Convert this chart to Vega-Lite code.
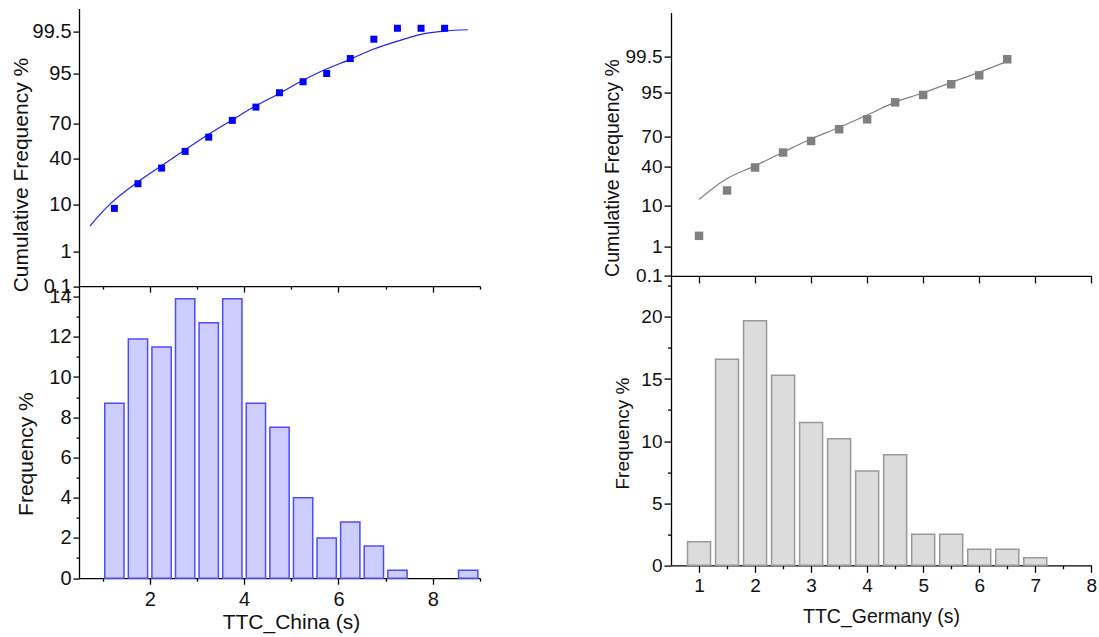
{
  "$schema": "https://vega.github.io/schema/vega-lite/v6.json",
  "padding": {"left": 10, "top": 8.6, "right": 5, "bottom": 5},
  "background": "white",
  "spacing": 121,
  "datasets": {
    "chinaFreq": [
      {"t": 1.25, "freq": 8.7}, {"t": 1.75, "freq": 11.9}, {"t": 2.25, "freq": 11.5}, {"t": 2.75, "freq": 13.9},
      {"t": 3.25, "freq": 12.7}, {"t": 3.75, "freq": 13.9}, {"t": 4.25, "freq": 8.7}, {"t": 4.75, "freq": 7.5},
      {"t": 5.25, "freq": 4.0}, {"t": 5.75, "freq": 2.0}, {"t": 6.25, "freq": 2.8}, {"t": 6.75, "freq": 1.6},
      {"t": 7.25, "freq": 0.4}, {"t": 8.75, "freq": 0.4}
    ],
    "chinaCum": [
      {"t": 1.25, "cum": 8.7}, {"t": 1.75, "cum": 20.9}, {"t": 2.25, "cum": 32.2}, {"t": 2.75, "cum": 46.4},
      {"t": 3.25, "cum": 59.0}, {"t": 3.75, "cum": 72.6}, {"t": 4.25, "cum": 81.5}, {"t": 4.75, "cum": 88.8},
      {"t": 5.25, "cum": 92.8}, {"t": 5.75, "cum": 95.0}, {"t": 6.25, "cum": 97.6}, {"t": 6.75, "cum": 99.2},
      {"t": 7.25, "cum": 99.6}, {"t": 7.75, "cum": 99.6}, {"t": 8.25, "cum": 99.6}
    ],
    "chinaFit": [
      {"t": 0.735, "cum": 4.0}, {"t": 0.913, "cum": 6.3}, {"t": 1.174, "cum": 10.6}, {"t": 1.74, "cum": 21.9},
      {"t": 2.24, "cum": 33.8}, {"t": 2.74, "cum": 47.6}, {"t": 3.24, "cum": 61.3}, {"t": 3.73, "cum": 72.6},
      {"t": 4.24, "cum": 82.1}, {"t": 4.74, "cum": 88.4}, {"t": 5.22, "cum": 93.0}, {"t": 5.73, "cum": 95.9},
      {"t": 6.25, "cum": 97.5}, {"t": 6.72, "cum": 98.54}, {"t": 7.25, "cum": 99.1}, {"t": 7.75, "cum": 99.41},
      {"t": 8.24, "cum": 99.52}, {"t": 8.74, "cum": 99.56}
    ],
    "germanyFreq": [
      {"t": 1.0, "freq": 1.9}, {"t": 1.5, "freq": 16.6}, {"t": 2.0, "freq": 19.7}, {"t": 2.5, "freq": 15.3},
      {"t": 3.0, "freq": 11.5}, {"t": 3.5, "freq": 10.2}, {"t": 4.0, "freq": 7.6}, {"t": 4.5, "freq": 8.9},
      {"t": 5.0, "freq": 2.5}, {"t": 5.5, "freq": 2.5}, {"t": 6.0, "freq": 1.3}, {"t": 6.5, "freq": 1.3},
      {"t": 7.0, "freq": 0.6}
    ],
    "germanyCum": [
      {"t": 1.0, "cum": 2.0}, {"t": 1.5, "cum": 18.9}, {"t": 2.0, "cum": 38.7}, {"t": 2.5, "cum": 54.0},
      {"t": 3.0, "cum": 65.5}, {"t": 3.5, "cum": 75.9}, {"t": 4.0, "cum": 83.1}, {"t": 4.5, "cum": 91.9},
      {"t": 5.0, "cum": 94.4}, {"t": 5.5, "cum": 96.9}, {"t": 6.0, "cum": 98.2}, {"t": 6.5, "cum": 99.4}
    ],
    "germanyFit": [
      {"t": 1.0, "cum": 13.3}, {"t": 1.244, "cum": 20.4}, {"t": 1.493, "cum": 28.1}, {"t": 1.997, "cum": 40.3},
      {"t": 2.49, "cum": 54.0}, {"t": 2.983, "cum": 67.1}, {"t": 3.48, "cum": 76.9}, {"t": 3.97, "cum": 85.3},
      {"t": 4.48, "cum": 91.8}, {"t": 4.97, "cum": 94.8}, {"t": 5.47, "cum": 97.1}, {"t": 5.96, "cum": 98.44},
      {"t": 6.455, "cum": 99.25}
    ],
    "empty": []
  },
  "hconcat": [
    {
      "spacing": 0,
      "bounds": "flush",
      "vconcat": [
        {
          "width": 401,
          "height": 277.5,
          "layer": [
            {
              "data": {"name": "chinaFit"},
              "transform": [{"calculate": "quantileNormal(datum.cum / 100)", "as": "z"}],
              "mark": {"type": "line", "color": "#1f1fff", "strokeWidth": 1.2, "interpolate": "monotone"},
              "encoding": {
                "x": {"field": "t", "type": "quantitative"},
                "y": {"field": "z", "type": "quantitative"}
              }
            },
            {
              "data": {"name": "chinaCum"},
              "transform": [{"calculate": "quantileNormal(datum.cum / 100)", "as": "z"}],
              "mark": {"type": "square", "size": 49, "color": "#0000ff", "opacity": 1},
              "encoding": {
                "x": {
                  "field": "t", "type": "quantitative",
                  "scale": {"domain": [0.5, 9], "nice": false, "zero": false, "padding": 0},
                  "axis": {
                    "values": [1, 2, 3, 4, 5, 6, 7, 8, 9], "labels": false, "title": null,
                    "tickSize": {"condition": {"test": "datum.value % 2 === 0", "value": 6}, "value": 3}
                  }
                },
                "y": {
                  "field": "z", "type": "quantitative",
                  "scale": {"domain": [-3.090232, 3.090232], "nice": false, "zero": false, "padding": 0},
                  "axis": {
                    "values": [-3.090232, -2.326348, -1.281552, -0.253347, 0.524401, 1.644854, 2.575829],
                    "labelExpr": "'' + round(cumulativeNormal(datum.value) * 1000) / 10",
                    "title": "Cumulative Frequency %",
                    "tickSize": 6, "labelFontSize": 20, "labelPadding": 2, "labelFlush": false,
                    "titleFontSize": 21, "titleX": -58, "titleY": 166, "titleBaseline": "middle"
                  }
                }
              }
            }
          ]
        },
        {
          "width": 401,
          "height": 291.6,
          "data": {"name": "chinaFreq"},
          "mark": {"type": "bar", "width": 19.3, "fill": "#cdcdff", "stroke": "#4d4dff", "strokeWidth": 1.5},
          "encoding": {
            "x": {
              "field": "t", "type": "quantitative",
              "scale": {"domain": [0.5, 9], "nice": false, "zero": false, "padding": 0},
              "axis": {
                "values": [1, 2, 3, 4, 5, 6, 7, 8, 9],
                "labelExpr": "datum.value % 2 === 0 ? '' + datum.value : ''",
                "tickSize": {"condition": {"test": "datum.value % 2 === 0", "value": 6}, "value": 3},
                "labelFontSize": 20, "labelPadding": 5, "labelFlush": false,
                "title": "TTC_China (s)", "titleFontSize": 21, "titleX": 212, "titleY": 50, "titleBaseline": "alphabetic"
              }
            },
            "y": {
              "field": "freq", "type": "quantitative",
              "scale": {"domain": [0, 14.5], "nice": false, "zero": true, "padding": 0},
              "axis": {
                "values": [0, 1, 2, 3, 4, 5, 6, 7, 8, 9, 10, 11, 12, 13, 14],
                "labelExpr": "datum.value % 2 === 0 ? '' + datum.value : ''",
                "tickSize": {"condition": {"test": "datum.value % 2 === 0", "value": 6}, "value": 3},
                "labelFontSize": 20, "labelPadding": 2, "labelFlush": false,
                "title": "Frequency %", "titleFontSize": 21, "titleX": -53, "titleY": 167, "titleBaseline": "middle"
              }
            }
          }
        }
      ]
    },
    {
      "spacing": 0,
      "bounds": "flush",
      "vconcat": [
        {
          "width": 420.3,
          "height": 3.5,
          "data": {"name": "empty"},
          "mark": {"type": "point", "opacity": 0}
        },
        {
          "width": 420.3,
          "height": 263.3,
          "layer": [
            {
              "data": {"name": "germanyFit"},
              "transform": [{"calculate": "quantileNormal(datum.cum / 100)", "as": "z"}],
              "mark": {"type": "line", "color": "#808080", "strokeWidth": 1.2, "interpolate": "monotone"},
              "encoding": {
                "x": {"field": "t", "type": "quantitative"},
                "y": {"field": "z", "type": "quantitative"}
              }
            },
            {
              "data": {"name": "germanyCum"},
              "transform": [{"calculate": "quantileNormal(datum.cum / 100)", "as": "z"}],
              "mark": {"type": "square", "size": 72, "color": "#808080", "opacity": 1},
              "encoding": {
                "x": {
                  "field": "t", "type": "quantitative",
                  "scale": {"domain": [0.5, 8], "nice": false, "zero": false, "padding": 0},
                  "axis": {
                    "values": [1, 1.5, 2, 2.5, 3, 3.5, 4, 4.5, 5, 5.5, 6, 6.5, 7, 7.5, 8], "labels": false, "title": null,
                    "tickSize": {"condition": {"test": "datum.value % 1 === 0", "value": 7}, "value": 3.5}
                  }
                },
                "y": {
                  "field": "z", "type": "quantitative",
                  "scale": {"domain": [-3.090232, 3.719016], "nice": false, "zero": false, "padding": 0},
                  "axis": {
                    "values": [-3.090232, -2.326348, -1.281552, -0.253347, 0.524401, 1.644854, 2.575829],
                    "labelExpr": "'' + round(cumulativeNormal(datum.value) * 1000) / 10",
                    "title": "Cumulative Frequency %",
                    "tickSize": 7, "labelFontSize": 19, "labelPadding": 2, "labelFlush": false,
                    "titleFontSize": 19.5, "titleX": -58.5, "titleY": 155, "titleBaseline": "middle"
                  }
                }
              }
            }
          ]
        },
        {
          "width": 420.3,
          "height": 288.7,
          "data": {"name": "germanyFreq"},
          "mark": {"type": "bar", "width": 23, "fill": "#dcdcdc", "stroke": "#999999", "strokeWidth": 1.5},
          "encoding": {
            "x": {
              "field": "t", "type": "quantitative",
              "scale": {"domain": [0.5, 8], "nice": false, "zero": false, "padding": 0},
              "axis": {
                "values": [1, 1.5, 2, 2.5, 3, 3.5, 4, 4.5, 5, 5.5, 6, 6.5, 7, 7.5, 8],
                "labelExpr": "datum.value % 1 === 0 ? '' + datum.value : ''",
                "tickSize": {"condition": {"test": "datum.value % 1 === 0", "value": 7}, "value": 3.5},
                "labelFontSize": 19, "labelPadding": 4, "labelFlush": false,
                "title": "TTC_Germany (s)", "titleFontSize": 19.5, "titleX": 210, "titleY": 57, "titleBaseline": "alphabetic"
              }
            },
            "y": {
              "field": "freq", "type": "quantitative",
              "scale": {"domain": [0, 23.25], "nice": false, "zero": true, "padding": 0},
              "axis": {
                "values": [0, 2.5, 5, 7.5, 10, 12.5, 15, 17.5, 20, 22.5],
                "labelExpr": "datum.value % 5 === 0 ? '' + datum.value : ''",
                "tickSize": {"condition": {"test": "datum.value % 5 === 0", "value": 7}, "value": 3.5},
                "labelFontSize": 19, "labelPadding": 2, "labelFlush": false,
                "title": "Frequency %", "titleFontSize": 19, "titleX": -48, "titleY": 156.5, "titleBaseline": "middle"
              }
            }
          }
        }
      ]
    }
  ],
  "config": {
    "view": {"stroke": null},
    "axis": {
      "grid": false,
      "domainColor": "#000000", "domainWidth": 1.3,
      "tickColor": "#000000", "tickWidth": 1.3,
      "labelColor": "#111111", "titleColor": "#111111",
      "labelFont": "Liberation Sans", "titleFont": "Liberation Sans",
      "titleFontWeight": "normal", "titlePadding": 0
    }
  }
}
